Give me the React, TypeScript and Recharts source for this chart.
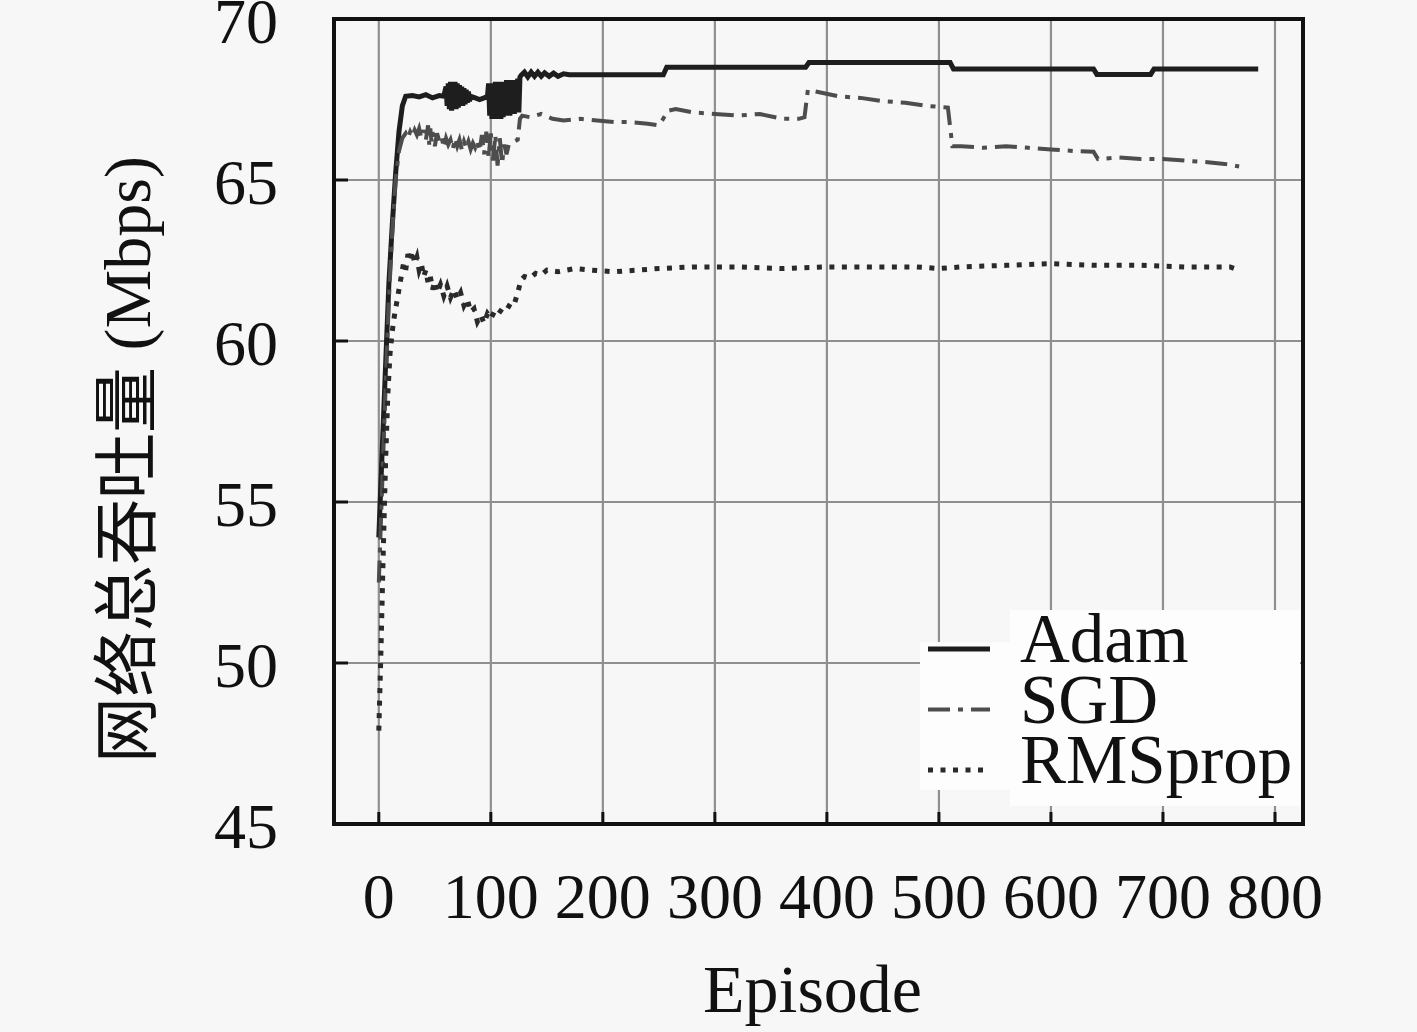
import React from 'react';
import { LineChart, Line, XAxis, YAxis, CartesianGrid, Legend, ReferenceArea } from 'recharts';

const xTicks = [0, 100, 200, 300, 400, 500, 600, 700, 800];
const yTicks = [45, 50, 55, 60, 65, 70];
const xDomain: [number, number] = [-40, 825];
const yDomain: [number, number] = [45, 70];

// [episode, throughput in Mbps]
const adamPoints: [number, number][] = [
  [0, 53.9], [3, 56.6], [6, 59.2], [9, 61.8], [12, 63.6], [15, 65.2], [18, 66.5], [21, 67.3], [24, 67.6],
  [30, 67.62], [36, 67.58], [42, 67.65], [48, 67.55], [54, 67.62], [58, 67.6],
  [60, 67.9], [61, 67.3], [62, 68.0], [63, 67.2], [64, 68.05], [65, 67.15], [66, 68.0], [67, 67.2],
  [68, 68.05], [69, 67.2], [70, 68.0], [71, 67.25], [72, 67.95], [73, 67.3], [74, 67.9], [75, 67.3],
  [76, 67.85], [77, 67.35], [78, 67.8], [79, 67.4], [80, 67.75], [81, 67.45], [82, 67.6],
  [86, 67.55], [90, 67.5], [94, 67.55], [97, 67.6],
  [98, 68.0], [99, 67.0], [100, 67.95], [101, 66.9], [102, 68.0], [103, 66.95], [104, 68.05], [105, 66.9],
  [106, 68.0], [107, 66.95], [108, 68.05], [109, 66.9], [110, 68.0], [111, 66.95], [112, 68.05], [113, 67.0],
  [114, 68.1], [115, 67.0], [116, 68.05], [117, 67.0], [118, 68.1], [119, 67.05], [120, 68.1], [121, 67.05],
  [122, 68.1], [123, 67.1], [124, 68.15], [125, 67.1], [126, 68.2], [127, 68.25],
  [130, 68.35], [133, 68.2], [136, 68.35], [139, 68.22], [142, 68.35], [145, 68.22], [148, 68.33],
  [152, 68.22], [156, 68.32], [160, 68.22], [165, 68.3], [170, 68.27],
  [254, 68.27], [257, 68.5], [381, 68.5], [384, 68.65], [510, 68.65], [513, 68.45],
  [638, 68.45], [641, 68.28], [689, 68.28], [692, 68.45], [785, 68.45],
];

const sgdPoints: [number, number][] = [
  [0, 52.5], [3, 55.5], [6, 58.5], [9, 61.3], [12, 63.4], [15, 65.0], [18, 65.9], [21, 66.3], [24, 66.45],
  [26, 66.3], [28, 66.5], [30, 66.35], [32, 66.55], [34, 66.4], [36, 66.6], [38, 66.3], [40, 66.55],
  [42, 66.25], [44, 66.7], [45, 66.1], [46, 66.6], [47, 66.2], [48, 66.5], [50, 66.05], [52, 66.45],
  [54, 66.2], [56, 66.35], [58, 66.0], [60, 66.3], [62, 66.1], [64, 66.25], [66, 65.95], [68, 66.3],
  [70, 66.05], [72, 66.25], [74, 65.95], [76, 66.2], [78, 66.0], [80, 66.2], [82, 65.95], [84, 66.15],
  [86, 66.0], [88, 66.2], [90, 65.9], [92, 66.4], [94, 65.8], [96, 66.5], [98, 65.7], [100, 66.45],
  [102, 65.6], [104, 66.4], [106, 65.45], [108, 66.3], [110, 65.5], [112, 66.1], [114, 65.8],
  [116, 66.1], [118, 66.15], [121, 66.2], [124, 66.25], [126, 66.9], [128, 67.0],
  [135, 66.95], [145, 67.05], [155, 66.9], [165, 66.85], [180, 66.9], [195, 66.85], [210, 66.8],
  [225, 66.8], [240, 66.75], [250, 66.7], [253, 66.85], [258, 67.15], [265, 67.2], [280, 67.1],
  [300, 67.05], [320, 67.0], [340, 67.05], [360, 66.9], [375, 66.9], [380, 66.95],
  [383, 67.8], [390, 67.75], [410, 67.6], [430, 67.55], [450, 67.45], [470, 67.4], [490, 67.3], [508, 67.25],
  [512, 66.05], [520, 66.05], [540, 66.0], [560, 66.05], [580, 66.0], [600, 65.95], [620, 65.9], [638, 65.88],
  [642, 65.65], [660, 65.7], [680, 65.65], [700, 65.65], [720, 65.6], [740, 65.55], [755, 65.5], [768, 65.42],
];

const rmspropPoints: [number, number][] = [
  [0, 47.9], [2, 50.5], [4, 53.5], [6, 56.2], [8, 58.3], [10, 59.6], [12, 60.3], [14, 60.8], [16, 61.2],
  [18, 61.6], [20, 62.0], [22, 62.4], [24, 62.2], [26, 62.7], [28, 62.5], [30, 62.8], [32, 62.4],
  [34, 62.6], [36, 62.2], [38, 62.4], [40, 62.0], [42, 62.2], [44, 61.8], [46, 62.0], [48, 61.6],
  [50, 61.85], [52, 61.5], [55, 61.75], [58, 61.4], [61, 61.7], [64, 61.35], [67, 61.6], [70, 61.3],
  [73, 61.5], [76, 61.1], [79, 61.3], [82, 60.9], [85, 61.0], [88, 60.6], [91, 60.8], [94, 60.55],
  [97, 60.85], [100, 60.7], [103, 60.9], [106, 60.8], [110, 61.0], [114, 60.95], [118, 61.2],
  [121, 61.15], [124, 61.5], [127, 61.9], [130, 62.0], [135, 61.95], [140, 62.1], [145, 62.05],
  [150, 62.2], [160, 62.15], [175, 62.25], [190, 62.2], [210, 62.15], [230, 62.2], [250, 62.25],
  [280, 62.3], [320, 62.3], [360, 62.25], [400, 62.3], [440, 62.3], [480, 62.3], [500, 62.25],
  [520, 62.3], [560, 62.35], [600, 62.4], [640, 62.35], [680, 62.35], [720, 62.3], [760, 62.3], [768, 62.2],
];

const toRows = (pts: [number, number][]) => pts.map(([ep, v]) => ({ ep, v }));

const FONT = '"Liberation Serif", "Noto Sans CJK SC", serif';
const INK = '#111111';

const series = [
  { name: 'Adam', data: toRows(adamPoints), color: '#1e1e1e', width: 5, dash: undefined as string | undefined },
  { name: 'SGD', data: toRows(sgdPoints), color: '#4d4d4d', width: 4, dash: '22 8 5 8' },
  { name: 'RMSprop', data: toRows(rmspropPoints), color: '#2a2a2a', width: 5, dash: '5 7.5' },
];

const XTick = ({ x, y, payload }: any) => (
  <g>
    <line x1={x} y1={y} x2={x} y2={y - 12} stroke={INK} strokeWidth={3} />
    <text x={x} y={y + 94} textAnchor="middle" fontSize={64} fontFamily={FONT} fill={INK}>
      {payload.value}
    </text>
  </g>
);

const YTick = ({ x, y, payload }: any) => (
  <g>
    <line x1={x} y1={y} x2={x + 14} y2={y} stroke={INK} strokeWidth={3} />
    <text x={x - 56} y={y + 24} textAnchor="end" fontSize={64} fontFamily={FONT} fill={INK}>
      {payload.value}
    </text>
  </g>
);

const YLabel = ({ viewBox }: any) => {
  const cx = viewBox.x + 127;
  const cy = viewBox.y + viewBox.height / 2 + 38;
  return (
    <text x={cx} y={cy} transform={`rotate(-90, ${cx}, ${cy})`} textAnchor="middle"
      dominantBaseline="central" fontSize={66} fontFamily={FONT} fill={INK}>
      网络总吞吐量 (Mbps)
    </text>
  );
};

const XLabel = ({ viewBox }: any) => (
  <text x={viewBox.x + viewBox.width / 2 - 6} y={viewBox.y + 188} textAnchor="middle"
    fontSize={68} fontFamily={FONT} fill={INK}>
    Episode
  </text>
);

// keeps the figure's own order (Adam, SGD, RMSprop) instead of the sorted payload
const LegendBox = () => (
  <svg width={380} height={196} style={{ display: 'block' }}>
    <rect x={0} y={32} width={90} height={148} fill="#fdfdfd" />
    <rect x={90} y={0} width={290} height={196} fill="#fdfdfd" />
    {series.map((s, i) => {
      const ly = 39 + i * 60.5;
      return (
        <g key={s.name}>
          <line x1={8} x2={70} y1={ly} y2={ly} stroke={s.color} strokeWidth={s.width} strokeDasharray={s.dash} />
          <text x={100} y={ly + 13} fontSize={69} fontFamily={FONT} fill={INK}>{s.name}</text>
        </g>
      );
    })}
  </svg>
);

export default function App() {
  return (
    <div style={{ position: 'absolute', left: 0, top: 0, width: 1417, height: 1032, background: '#f7f7f7' }}>
      <LineChart width={1417} height={1032} margin={{ top: 19, right: 114, bottom: 0, left: 0 }}>
        <CartesianGrid stroke="#8f8f8f" strokeWidth={2.2} horizontalValues={yTicks} verticalValues={xTicks} />
        <XAxis dataKey="ep" type="number" domain={xDomain} ticks={xTicks} allowDataOverflow
          height={208} tickSize={0} tickMargin={0} tickLine={false} interval={0}
          axisLine={{ stroke: INK, strokeWidth: 4 }} tick={<XTick />} label={{ content: <XLabel /> } as any} />
        <YAxis type="number" domain={yDomain} ticks={yTicks} allowDataOverflow width={334}
          tickSize={0} tickMargin={0} tickLine={false} interval={0}
          axisLine={{ stroke: INK, strokeWidth: 4 }} tick={<YTick />} label={{ content: <YLabel /> } as any} />
        <ReferenceArea x1={xDomain[0]} x2={xDomain[1]} y1={yDomain[0]} y2={yDomain[1]}
          fill="none" stroke={INK} strokeWidth={4} ifOverflow="visible" />
        {series.map((s) => (
          <Line key={s.name} name={s.name} data={s.data} dataKey="v" type="linear"
            stroke={s.color} strokeWidth={s.width} strokeDasharray={s.dash}
            dot={false} activeDot={false} isAnimationActive={false} />
        ))}
        <Legend layout="vertical" align="center" verticalAlign="middle" content={<LegendBox />}
          wrapperStyle={{ position: 'absolute', left: 920, top: 610, width: 380, height: 196 }} />
      </LineChart>
    </div>
  );
}
